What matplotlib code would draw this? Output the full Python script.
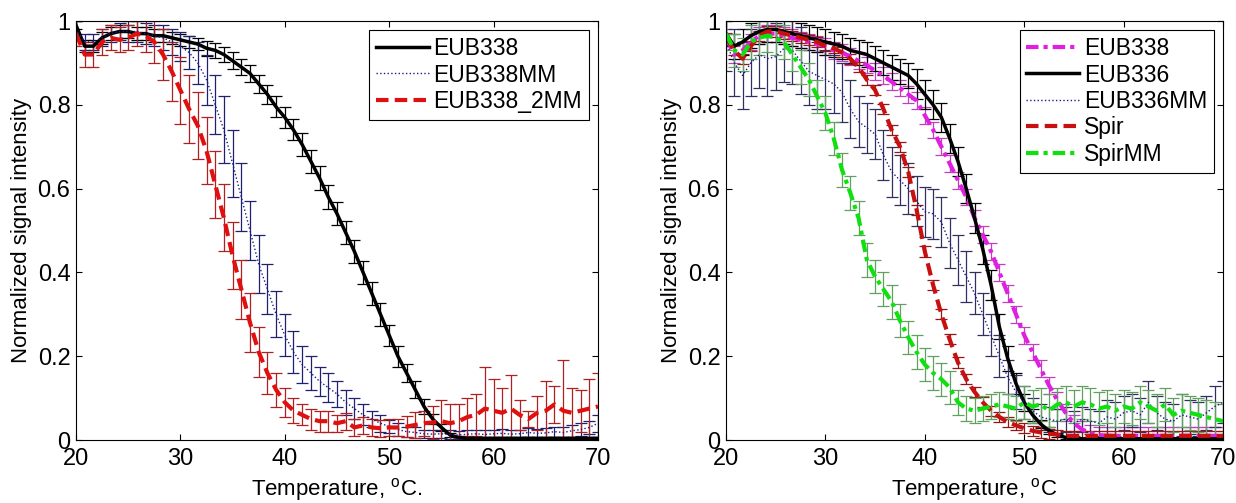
import numpy as np
import matplotlib
matplotlib.use("Agg")
import matplotlib.pyplot as plt

plt.rcParams['font.family'] = ['Liberation Sans', 'DejaVu Sans']
plt.rcParams['mathtext.fontset'] = 'custom'
plt.rcParams['mathtext.rm'] = 'Liberation Sans'

# temperature steps (61 points, 20..70 C)
temp = np.linspace(20, 70, 61)

# ---- left panel ----
eub338 = [0.99, 0.94, 0.94, 0.96, 0.97, 0.975, 0.975, 0.97, 0.97, 0.965,
          0.965, 0.96, 0.955, 0.95, 0.945, 0.935, 0.93, 0.92, 0.905, 0.89,
          0.875, 0.85, 0.825, 0.795, 0.77, 0.74, 0.705, 0.665, 0.625, 0.58,
          0.54, 0.495, 0.45, 0.40, 0.35, 0.30, 0.25, 0.20, 0.16, 0.12,
          0.08, 0.05, 0.03, 0.012, 0.006, 0.004, 0.004, 0.004, 0.004, 0.004,
          0.004, 0.004, 0.004, 0.004, 0.004, 0.004, 0.004, 0.004, 0.004, 0.004,
          0.004]
eub338_err = [0.01, 0.015, 0.015, 0.015, 0.015, 0.015, 0.015, 0.015, 0.015, 0.015,
              0.015, 0.015, 0.015, 0.015, 0.015, 0.018, 0.018, 0.018, 0.02, 0.02,
              0.02, 0.022, 0.022, 0.025, 0.025, 0.025, 0.028, 0.028, 0.028, 0.028,
              0.028, 0.028, 0.028, 0.028, 0.028, 0.028, 0.025, 0.025, 0.022, 0.02,
              0.018, 0.012, 0.008, 0.005, 0.004, 0.003, 0.003, 0.003, 0.003, 0.003,
              0.003, 0.003, 0.003, 0.003, 0.003, 0.003, 0.003, 0.003, 0.003, 0.003,
              0.003]

eub338mm = [0.98, 0.95, 0.95, 0.96, 0.97, 0.975, 0.975, 0.975, 0.97, 0.965,
            0.96, 0.95, 0.94, 0.925, 0.90, 0.86, 0.80, 0.74, 0.66, 0.58,
            0.50, 0.42, 0.36, 0.30, 0.25, 0.21, 0.18, 0.16, 0.14, 0.125,
            0.11, 0.09, 0.075, 0.06, 0.05, 0.04, 0.032, 0.025, 0.02, 0.018,
            0.015, 0.014, 0.015, 0.013, 0.012, 0.014, 0.015, 0.013, 0.015, 0.016,
            0.014, 0.015, 0.018, 0.016, 0.017, 0.02, 0.018, 0.022, 0.025, 0.03,
            0.04]
eub338mm_err = [0.02, 0.02, 0.02, 0.02, 0.02, 0.02, 0.025, 0.025, 0.025, 0.025,
                0.03, 0.03, 0.035, 0.04, 0.05, 0.06, 0.07, 0.08, 0.08, 0.08,
                0.07, 0.07, 0.06, 0.055, 0.05, 0.05, 0.045, 0.04, 0.035, 0.035,
                0.03, 0.03, 0.025, 0.025, 0.02, 0.02, 0.015, 0.015, 0.012, 0.012,
                0.01, 0.01, 0.01, 0.01, 0.01, 0.01, 0.01, 0.01, 0.01, 0.01,
                0.01, 0.01, 0.01, 0.01, 0.012, 0.012, 0.012, 0.015, 0.015, 0.015,
                0.02]

eub338_2mm = [0.97, 0.92, 0.92, 0.95, 0.96, 0.955, 0.96, 0.97, 0.965, 0.95,
              0.92, 0.88, 0.835, 0.79, 0.75, 0.69, 0.61, 0.53, 0.44, 0.36,
              0.28, 0.21, 0.16, 0.12, 0.09, 0.07, 0.06, 0.05, 0.045, 0.045,
              0.04, 0.045, 0.03, 0.035, 0.03, 0.028, 0.03, 0.03, 0.032, 0.036,
              0.04, 0.042, 0.045, 0.04, 0.045, 0.055, 0.06, 0.075, 0.07, 0.065,
              0.075, 0.06, 0.05, 0.065, 0.07, 0.085, 0.07, 0.065, 0.07, 0.075,
              0.08]
eub338_2mm_err = [0.03, 0.03, 0.03, 0.03, 0.03, 0.03, 0.03, 0.03, 0.04, 0.05,
                  0.06, 0.07, 0.08, 0.08, 0.08, 0.08, 0.08, 0.08, 0.08, 0.07,
                  0.07, 0.06, 0.05, 0.04, 0.035, 0.03, 0.025, 0.025, 0.025, 0.025,
                  0.02, 0.02, 0.02, 0.02, 0.02, 0.02, 0.02, 0.02, 0.025, 0.03,
                  0.03, 0.04, 0.05, 0.045, 0.04, 0.045, 0.05, 0.10, 0.075, 0.06,
                  0.08, 0.035, 0.02, 0.04, 0.07, 0.045, 0.12, 0.06, 0.05, 0.07,
                  0.08]

# ---- right panel ----
r_eub338 = [0.96, 0.92, 0.93, 0.95, 0.965, 0.97, 0.97, 0.965, 0.96, 0.955,
            0.95, 0.945, 0.94, 0.93, 0.925, 0.915, 0.905, 0.895, 0.88, 0.87,
            0.855, 0.84, 0.825, 0.81, 0.775, 0.74, 0.70, 0.66, 0.62, 0.58,
            0.53, 0.49, 0.45, 0.40, 0.35, 0.30, 0.25, 0.21, 0.17, 0.13,
            0.095, 0.065, 0.04, 0.025, 0.017, 0.012, 0.01, 0.01, 0.01, 0.01,
            0.01, 0.01, 0.01, 0.01, 0.01, 0.01, 0.01, 0.01, 0.01, 0.01,
            0.01]
r_eub338_err = [0.02] * 61

r_eub336 = [0.97, 0.94, 0.95, 0.965, 0.975, 0.98, 0.98, 0.975, 0.97, 0.965,
            0.96, 0.955, 0.95, 0.945, 0.94, 0.93, 0.925, 0.92, 0.91, 0.90,
            0.89, 0.88, 0.87, 0.85, 0.825, 0.80, 0.77, 0.72, 0.665, 0.60,
            0.53, 0.455, 0.37, 0.27, 0.195, 0.135, 0.09, 0.06, 0.038, 0.022,
            0.012, 0.006, 0.003, 0.003, 0.003, 0.003, 0.003, 0.003, 0.003, 0.003,
            0.003, 0.003, 0.003, 0.003, 0.003, 0.003, 0.003, 0.003, 0.003, 0.003,
            0.003]
r_eub336_err = [0.03, 0.03, 0.03, 0.03, 0.03, 0.03, 0.03, 0.03, 0.03, 0.03,
                0.03, 0.03, 0.03, 0.03, 0.03, 0.03, 0.03, 0.03, 0.03, 0.03,
                0.03, 0.03, 0.03, 0.035, 0.035, 0.035, 0.035, 0.035, 0.035, 0.035,
                0.035, 0.035, 0.035, 0.03, 0.03, 0.025, 0.02, 0.015, 0.01, 0.008,
                0.005, 0.004, 0.003, 0.003, 0.003, 0.003, 0.003, 0.003, 0.003, 0.003,
                0.003, 0.003, 0.003, 0.003, 0.003, 0.003, 0.003, 0.003, 0.003, 0.003,
                0.003]

r_eub336mm = [0.95, 0.90, 0.87, 0.90, 0.92, 0.91, 0.915, 0.935, 0.93, 0.905,
              0.88, 0.87, 0.86, 0.85, 0.83, 0.79, 0.76, 0.745, 0.73, 0.68,
              0.64, 0.62, 0.60, 0.57, 0.545, 0.54, 0.52, 0.47, 0.43, 0.39,
              0.35, 0.30, 0.25, 0.20, 0.15, 0.115, 0.09, 0.07, 0.055, 0.05,
              0.045, 0.05, 0.04, 0.05, 0.045, 0.04, 0.055, 0.05, 0.065, 0.07,
              0.06, 0.09, 0.065, 0.05, 0.045, 0.06, 0.055, 0.05, 0.065, 0.08,
              0.09]
r_eub336mm_err = [0.07, 0.08, 0.08, 0.08, 0.08, 0.09, 0.08, 0.08, 0.08, 0.08,
                  0.08, 0.08, 0.07, 0.07, 0.07, 0.07, 0.06, 0.06, 0.06, 0.06,
                  0.06, 0.06, 0.06, 0.06, 0.06, 0.06, 0.06, 0.06, 0.06, 0.06,
                  0.05, 0.05, 0.05, 0.05, 0.04, 0.04, 0.04, 0.03, 0.03, 0.03,
                  0.03, 0.03, 0.03, 0.03, 0.03, 0.03, 0.04, 0.04, 0.04, 0.04,
                  0.04, 0.05, 0.04, 0.04, 0.04, 0.05, 0.04, 0.04, 0.04, 0.05,
                  0.05]

spir = [0.96, 0.93, 0.91, 0.94, 0.965, 0.975, 0.975, 0.97, 0.965, 0.96,
        0.955, 0.95, 0.94, 0.935, 0.925, 0.91, 0.89, 0.86, 0.835, 0.79,
        0.74, 0.70, 0.64, 0.55, 0.45, 0.37, 0.30, 0.24, 0.185, 0.145,
        0.115, 0.09, 0.07, 0.055, 0.043, 0.035, 0.028, 0.022, 0.018, 0.015,
        0.013, 0.01, 0.01, 0.01, 0.01, 0.01, 0.01, 0.01, 0.01, 0.01,
        0.01, 0.01, 0.01, 0.01, 0.01, 0.01, 0.01, 0.01, 0.01, 0.01,
        0.01]
spir_err = [0.012] * 61

spirmm = [0.97, 0.93, 0.92, 0.95, 0.96, 0.965, 0.96, 0.95, 0.92, 0.89,
          0.86, 0.82, 0.78, 0.72, 0.645, 0.59, 0.53, 0.43, 0.39, 0.36,
          0.33, 0.285, 0.245, 0.21, 0.18, 0.16, 0.145, 0.125, 0.09, 0.075,
          0.07, 0.075, 0.08, 0.085, 0.08, 0.075, 0.09, 0.08, 0.085, 0.07,
          0.085, 0.09, 0.08, 0.09, 0.085, 0.075, 0.08, 0.07, 0.08, 0.075,
          0.09, 0.08, 0.07, 0.085, 0.06, 0.07, 0.065, 0.06, 0.055, 0.05,
          0.045]
spirmm_err = [0.04, 0.04, 0.04, 0.04, 0.04, 0.04, 0.04, 0.04, 0.04, 0.04,
              0.04, 0.04, 0.04, 0.04, 0.04, 0.04, 0.04, 0.04, 0.04, 0.04,
              0.04, 0.04, 0.04, 0.04, 0.04, 0.04, 0.04, 0.04, 0.03, 0.03,
              0.03, 0.03, 0.03, 0.03, 0.03, 0.03, 0.04, 0.04, 0.04, 0.04,
              0.04, 0.04, 0.04, 0.04, 0.04, 0.04, 0.04, 0.04, 0.04, 0.04,
              0.04, 0.04, 0.04, 0.04, 0.04, 0.04, 0.04, 0.04, 0.04, 0.04,
              0.04]

xticks = [20, 30, 40, 50, 60, 70]
yticks = [0, 0.2, 0.4, 0.6, 0.8, 1]
yticklabels = ['0', '0.2', '0.4', '0.6', '0.8', '1']
left_labels = ['EUB338', 'EUB338MM', 'EUB338_2MM']
right_labels = ['EUB338', 'EUB336', 'EUB336MM', 'Spir', 'SpirMM']

FS = 16

fig = plt.figure(figsize=(12.36, 5.03), dpi=100)
ax1 = fig.add_axes([0.0615, 0.1252, 0.4223, 0.8330])
ax2 = fig.add_axes([0.5874, 0.1252, 0.4021, 0.8330])


def draw(ax, y, err, color, ecolor, ls, lw):
    c = ax.errorbar(temp, y, yerr=err, color=color, ecolor=ecolor, ls=ls, lw=lw,
                    elinewidth=0.9, capsize=4.5, capthick=0.9)
    return c[0]


# 左图
h1 = [
    draw(ax1, eub338, eub338_err, 'black', 'black', '-', 2.5),
    draw(ax1, eub338mm, eub338mm_err, '#1a1a8c', '#202070', ':', 1.0),
    draw(ax1, eub338_2mm, eub338_2mm_err, '#e01010', '#b02020', (0, (3, 1.5)), 3.0),
]
# 右图
h2 = [
    draw(ax2, r_eub338, r_eub338_err, '#e020e0', '#c040c0', (0, (3, 1.2, 1, 1.2)), 3.0),
    draw(ax2, r_eub336, r_eub336_err, 'black', 'black', '-', 2.5),
    draw(ax2, r_eub336mm, r_eub336mm_err, '#1a1a8c', '#303060', ':', 1.0),
    draw(ax2, spir, spir_err, '#c81010', '#901818', (0, (3, 1.5)), 3.0),
    draw(ax2, spirmm, spirmm_err, '#10e010', '#60a060', (0, (3, 1.2, 1, 1.2)), 3.0),
]

for ax, handles, labels, xl in [(ax1, h1, left_labels, 'Temperature, $^{\\rm o}$C.'),
                                (ax2, h2, right_labels, 'Temperature, $^{\\rm o}$C')]:
    ax.set_xlim(20, 70)
    ax.set_ylim(0, 1)
    ax.set_xticks(xticks)
    ax.set_yticks(yticks)
    ax.set_yticklabels(yticklabels)
    ax.tick_params(direction='in', top=True, right=True, length=4, labelsize=FS + 1)
    ax.tick_params(axis='x', pad=6)
    ax.tick_params(axis='y', pad=4)
    ax.set_xlabel(xl, fontsize=FS)
    ax.set_ylabel('Normalized signal intensity', fontsize=FS)
    leg = ax.legend(handles, labels, loc='upper right', fontsize=FS + 0.5,
                    fancybox=False, framealpha=1, edgecolor='black',
                    borderaxespad=0.4, handlelength=2.3, handletextpad=0.2,
                    labelspacing=0.15, borderpad=0.3)
    leg.get_frame().set_linewidth(0.8)

fig.savefig('out.png', dpi=100)
